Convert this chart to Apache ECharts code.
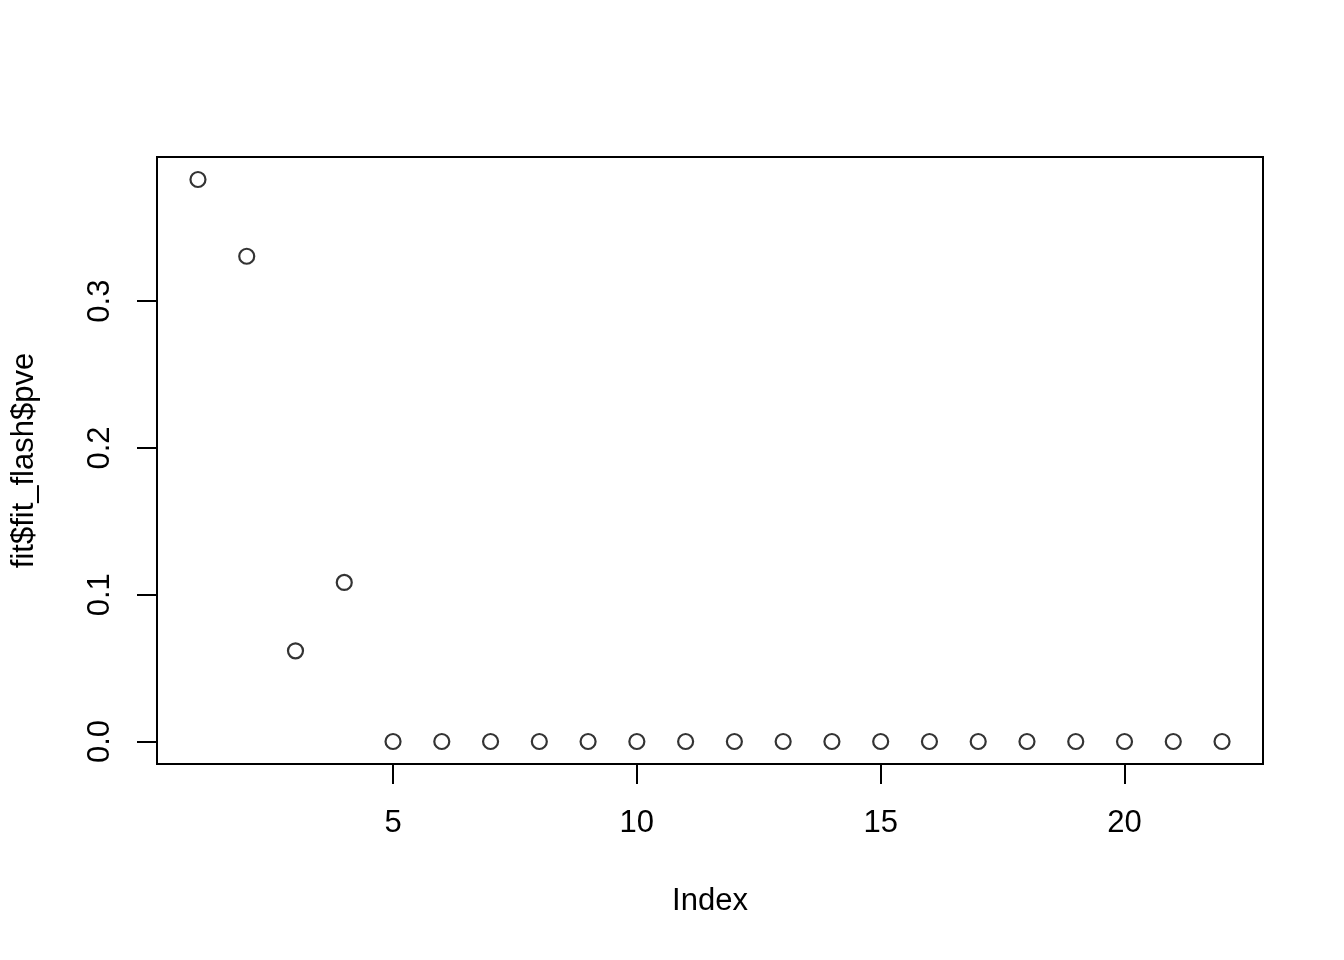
<!DOCTYPE html>
<html>
<head>
<meta charset="utf-8">
<script src="https://cdn.jsdelivr.net/npm/echarts@6/dist/echarts.min.js"></script>
<style>html,body{margin:0;padding:0;background:#fff;}#c{width:1344px;height:960px;}</style>
</head>
<body>
<div id="c"></div>
<script>
const indexValues = [1,2,3,4,5,6,7,8,9,10,11,12,13,14,15,16,17,18,19,20,21,22];
const pveValues = [0.3829,0.3306,0.0618,0.1084,0,0,0,0,0,0,0,0,0,0,0,0,0,0,0,0,0,0];
const xTicks = [5,10,15,20];
const yTicks = [0,0.1,0.2,0.3];
const xTitle = 'Index';
const yTitle = 'fit$fit_flash$pve';

const xr = [Math.min(...indexValues), Math.max(...indexValues)];
const yr = [Math.min(...pveValues), Math.max(...pveValues)];
const xpad = (xr[1]-xr[0])*0.04, ypad = (yr[1]-yr[0])*0.04;

const font = 'Liberation Sans, Arial, Helvetica, sans-serif';
const chart = echarts.init(document.getElementById('c'));
chart.setOption({
  animation: false,
  backgroundColor: '#fff',
  grid: {left: 157, top: 157, width: 1106, height: 607, show: true, borderColor: '#000', borderWidth: 2, backgroundColor: 'transparent'},
  xAxis: {
    type: 'value', min: xr[0]-xpad, max: xr[1]+xpad, position: 'bottom',
    name: xTitle, nameLocation: 'middle', nameGap: 122,
    nameTextStyle: {fontSize: 31, color: '#000', fontFamily: font},
    axisLine: {show: true, onZero: false, lineStyle: {color: '#000', width: 2}},
    splitLine: {show: false},
    axisTick: {show: true, length: 20, inside: false, customValues: xTicks, lineStyle: {color: '#000', width: 2}},
    axisLabel: {customValues: xTicks, fontSize: 31, color: '#000', fontFamily: font, margin: 44, formatter: v => String(v)}
  },
  yAxis: {
    type: 'value', min: yr[0]-ypad, max: yr[1]+ypad,
    name: yTitle, nameLocation: 'middle', nameGap: 117, nameRotate: 90,
    nameTextStyle: {fontSize: 31, color: '#000', fontFamily: font},
    axisLine: {show: false},
    splitLine: {show: false},
    axisTick: {show: true, length: 20, inside: false, customValues: yTicks, lineStyle: {color: '#000', width: 2}},
    axisLabel: {customValues: yTicks, rotate: 90, fontSize: 31, color: '#000', fontFamily: font, margin: 41, formatter: v => v.toFixed(1)}
  },
  series: [{
    type: 'scatter',
    data: indexValues.map((x,i) => [x, pveValues[i]]),
    symbol: 'circle', symbolSize: 15,
    itemStyle: {color: 'rgba(0,0,0,0)', borderColor: '#000', borderWidth: 2.2}
  }]
});
</script>
</body>
</html>
